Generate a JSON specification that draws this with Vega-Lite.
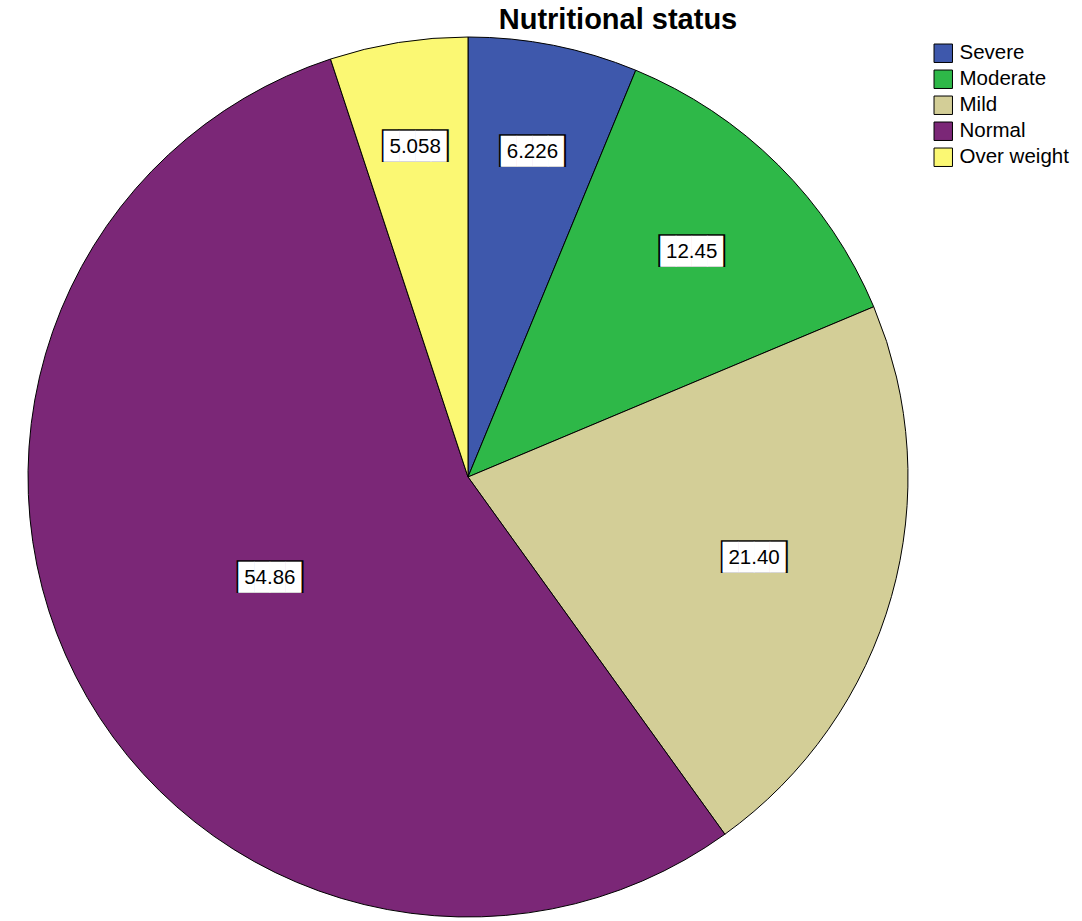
{
  "$schema": "https://vega.github.io/schema/vega-lite/v6.json",
  "autosize": "none",
  "width": 936,
  "height": 874,
  "padding": {"left": 0, "top": 40, "right": 146, "bottom": 7},
  "background": "white",
  "title": {
    "text": "Nutritional status",
    "font": "Liberation Sans",
    "fontSize": 29,
    "fontWeight": "bold",
    "color": "black",
    "anchor": "middle",
    "frame": "group",
    "offset": 0,
    "dy": 0,
    "dx": 150
  },
  "data": {
    "values": [
      {"cat": "Severe", "value": 6.226, "ord": 1},
      {"cat": "Moderate", "value": 12.45, "ord": 2},
      {"cat": "Mild", "value": 21.40, "ord": 3},
      {"cat": "Normal", "value": 54.86, "ord": 4},
      {"cat": "Over weight", "value": 5.058, "ord": 5}
    ]
  },
  "encoding": {
    "theta": {"field": "value", "type": "quantitative", "stack": true},
    "order": {"field": "ord", "type": "quantitative", "sort": "ascending"}
  },
  "layer": [
    {
      "mark": {"type": "arc", "outerRadius": 440, "stroke": "black", "strokeWidth": 1},
      "encoding": {
        "color": {
          "field": "cat",
          "type": "nominal",
          "sort": ["Severe", "Moderate", "Mild", "Normal", "Over weight"],
          "scale": {
            "domain": ["Severe", "Moderate", "Mild", "Normal", "Over weight"],
            "range": ["#3e58ac", "#2eb848", "#d3ce97", "#7b2777", "#fbf873"]
          },
          "legend": {
            "title": null,
            "orient": "none",
            "legendX": 933,
            "legendY": 3,
            "padding": 0,
            "symbolType": "square",
            "symbolSize": 340,
            "symbolStrokeColor": "black",
            "symbolStrokeWidth": 1,
            "symbolOpacity": 1,
            "labelFont": "Liberation Sans",
            "labelFontSize": 20.5,
            "labelColor": "black",
            "labelOffset": 6,
            "rowPadding": 3,
            "labelLimit": 300
          }
        }
      }
    },
    {
      "mark": {"type": "text", "font": "DejaVu Sans Mono", "fontSize": 27.5, "color": "black", "align": "center", "baseline": "middle"},
      "encoding": {
        "detail": {"field": "cat"},
        "radius": {"field": "value", "type": "quantitative", "scale": {"type": "linear", "domain": [5, 55], "range": [334, 222], "zero": false}},
        "text": {"value": "████"}
      }
    },
    {
      "mark": {"type": "text", "font": "DejaVu Sans Mono", "fontSize": 26, "color": "white", "align": "center", "baseline": "middle"},
      "encoding": {
        "detail": {"field": "cat"},
        "radius": {"field": "value", "type": "quantitative"},
        "text": {"value": "████"}
      }
    },
    {
      "mark": {"type": "text", "font": "Liberation Sans", "fontSize": 20.5, "color": "black", "align": "center", "baseline": "middle"},
      "encoding": {
        "detail": {"field": "cat"},
        "radius": {"field": "value", "type": "quantitative"},
        "text": {"field": "value", "type": "quantitative", "format": ".4r"}
      }
    }
  ]
}
